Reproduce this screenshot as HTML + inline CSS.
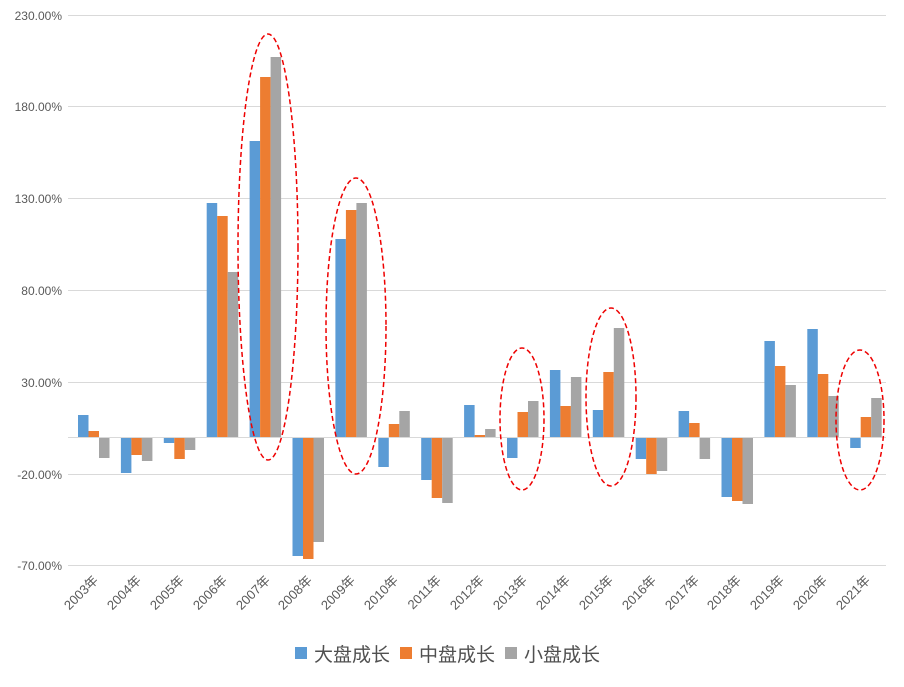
<!DOCTYPE html>
<html><head><meta charset="utf-8"><style>
html,body{margin:0;padding:0;background:#fff;}
svg text{font-family:"Liberation Sans","Noto Sans CJK SC",sans-serif;}
</style></head><body>
<svg id="s" width="904" height="682" viewBox="0 0 904 682" xmlns="http://www.w3.org/2000/svg">
<rect width="904" height="682" fill="#fff"/>
<g stroke="#d9d9d9" stroke-width="1">
<line x1="68" x2="886" y1="15.5" y2="15.5"/>
<line x1="68" x2="886" y1="106.5" y2="106.5"/>
<line x1="68" x2="886" y1="198.5" y2="198.5"/>
<line x1="68" x2="886" y1="290.5" y2="290.5"/>
<line x1="68" x2="886" y1="382.5" y2="382.5"/>
<line x1="68" x2="886" y1="474.5" y2="474.5"/>
<line x1="68" x2="886" y1="565.5" y2="565.5"/>
</g>
<g font-size="12" fill="#595959" text-anchor="end">
<text x="62" y="20">230.00%</text>
<text x="62" y="111">180.00%</text>
<text x="62" y="203">130.00%</text>
<text x="62" y="295">80.00%</text>
<text x="62" y="387">30.00%</text>
<text x="62" y="479">-20.00%</text>
<text x="62" y="570">-70.00%</text>
</g>
<g id="bars"></g>
<line x1="68" x2="886" y1="437.5" y2="437.5" stroke="#d9d9d9"/>
<g font-size="13" fill="#595959" text-anchor="end">
<text transform="translate(99,581) rotate(-45)">2003年</text>
<text transform="translate(142,581) rotate(-45)">2004年</text>
<text transform="translate(185,581) rotate(-45)">2005年</text>
<text transform="translate(228,581) rotate(-45)">2006年</text>
<text transform="translate(271,581) rotate(-45)">2007年</text>
<text transform="translate(313,581) rotate(-45)">2008年</text>
<text transform="translate(356,581) rotate(-45)">2009年</text>
<text transform="translate(399,581) rotate(-45)">2010年</text>
<text transform="translate(442,581) rotate(-45)">2011年</text>
<text transform="translate(485,581) rotate(-45)">2012年</text>
<text transform="translate(528,581) rotate(-45)">2013年</text>
<text transform="translate(571,581) rotate(-45)">2014年</text>
<text transform="translate(614,581) rotate(-45)">2015年</text>
<text transform="translate(657,581) rotate(-45)">2016年</text>
<text transform="translate(700,581) rotate(-45)">2017年</text>
<text transform="translate(742,581) rotate(-45)">2018年</text>
<text transform="translate(785,581) rotate(-45)">2019年</text>
<text transform="translate(828,581) rotate(-45)">2020年</text>
<text transform="translate(871,581) rotate(-45)">2021年</text>
</g>
<g fill="none" stroke="#e00" stroke-width="1.5" stroke-dasharray="5,3">
<ellipse cx="268" cy="247" rx="30" ry="213"/>
<ellipse cx="356" cy="326" rx="30" ry="148"/>
<ellipse cx="522" cy="419" rx="22" ry="71"/>
<ellipse cx="611" cy="397" rx="25" ry="89"/>
<ellipse cx="860" cy="420" rx="24" ry="70"/>
</g>
<g font-size="19" fill="#505050">
<rect x="295" y="647" width="12" height="12" fill="#5B9BD5"/>
<text x="314" y="661">大盘成长</text>
<rect x="400" y="647" width="12" height="12" fill="#ED7D31"/>
<text x="419" y="661">中盘成长</text>
<rect x="505" y="647" width="12" height="12" fill="#A5A5A5"/>
<text x="524" y="661">小盘成长</text>
</g>
</svg>
<script>
var d=[[415,431,458],[473,455,461],[443,459,450],[203,216,272],[141,77,57],[556,559,542],[239,210,203],[467,424,411],[480,498,503],[405,435,429],[458,412,401],[370,406,377],[410,372,328],[459,474,471],[411,423,459],[497,501,504],[341,366,385],[329,374,396],[448,417,398]];
var cols=["#5B9BD5","#ED7D31","#A5A5A5"],z=437,g=document.getElementById("bars"),h="";
for(var i=0;i<d.length;i++){var b=78+i*42.9;for(var j=0;j<3;j++){var x=b+j*10.5,y=d[i][j];var t=Math.min(y,z),hh=Math.abs(y-z);h+='<rect x="'+x.toFixed(1)+'" y="'+t+'" width="10.5" height="'+hh+'" fill="'+cols[j]+'"/>';}}
g.innerHTML=h;
</script>
</body></html>
